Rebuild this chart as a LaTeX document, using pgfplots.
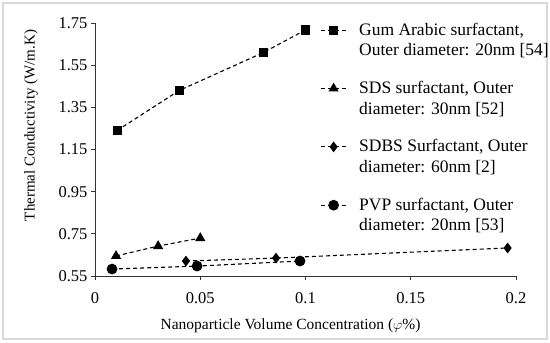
\documentclass[border=0pt]{standalone}
\usepackage{pgfplots}
\pgfplotsset{compat=1.18}
\usepackage{fontspec}
\setmainfont{Liberation Serif}
\begin{document}
\begin{tikzpicture}[x=1bp,y=1bp,font=\fontsize{15bp}{17bp}\selectfont]
\useasboundingbox (-95,-66) rectangle (455,276);
\draw[gray!30,line width=1.5bp] (-92,-63) rectangle (452,273);
\begin{axis}[
  at={(0,0)}, anchor=south west,
  scale only axis, width=421bp, height=253bp,
  xmin=0, xmax=0.2, ymin=0.55, ymax=1.75,
  axis lines=left, axis line style={-, black!80, line width=0.8bp},
  xtick={0,0.05,0.1,0.15,0.2}, xticklabels={0,0.05,0.1,0.15,0.2},
  ytick={0.55,0.75,0.95,1.15,1.35,1.55,1.75},
  yticklabels={0.55,0.75,0.95,1.15,1.35,1.55,1.75},
  tick align=outside, major tick length=4bp,
  tick style={black!80, line width=0.8bp},
  ticklabel style={font=\fontsize{16.5bp}{18bp}\selectfont},
  xticklabel style={yshift=-9bp},
  xlabel={Nanoparticle Volume Concentration ($\varphi$\%)},
  ylabel={Thermal Conductivity (W/m.K)},
  xlabel style={yshift=-8bp, xshift=-15bp, font=\fontsize{15.5bp}{17bp}\selectfont},
  ylabel style={yshift=14bp, xshift=24bp, font=\fontsize{15bp}{17bp}\selectfont},
  every axis plot/.append style={black, line width=1.1bp, dash pattern=on 4bp off 3bp},
  legend style={at={(0.527,1.025)}, anchor=north west, draw=none, fill=none,
    row sep=38.5bp, cells={anchor=base west}, font=\fontsize{17.5bp}{20.5bp}\selectfont,
    /tikz/every odd column/.style={column sep=10bp}},
  legend image code/.code={\draw[mark repeat=2,mark phase=2,#1] plot coordinates {(0bp,5bp)(13bp,5bp)(26bp,5bp)};},
]
\addplot[mark=square*, mark size=4bp, mark options={solid}] coordinates {(0.0105,1.24)(0.04,1.43)(0.08,1.61)(0.1,1.717)};
\addlegendentry{\begin{tabular}[t]{@{}l@{}}Gum Arabic surfactant,\\Outer diameter: 20nm [54]\end{tabular}}
\addplot[mark=triangle*, mark size=4.8bp, mark options={solid}] coordinates {(0.01,0.645)(0.03,0.692)(0.05,0.73)};
\addlegendentry{\begin{tabular}[t]{@{}l@{}}SDS surfactant, Outer\\diameter: 30nm [52]\end{tabular}}
\addplot[mark=diamond*, mark size=4.5bp, mark options={solid}] coordinates {(0.0432,0.621)(0.086,0.635)(0.196,0.683)};
\addlegendentry{\begin{tabular}[t]{@{}l@{}}SDBS Surfactant, Outer\\diameter: 60nm [2]\end{tabular}}
\addplot[mark=*, mark size=4.8bp, mark options={solid}] coordinates {(0.0081,0.583)(0.0485,0.597)(0.0974,0.621)};
\addlegendentry{\begin{tabular}[t]{@{}l@{}}PVP surfactant, Outer\\diameter: 20nm [53]\end{tabular}}
\end{axis}
\end{tikzpicture}
\end{document}
